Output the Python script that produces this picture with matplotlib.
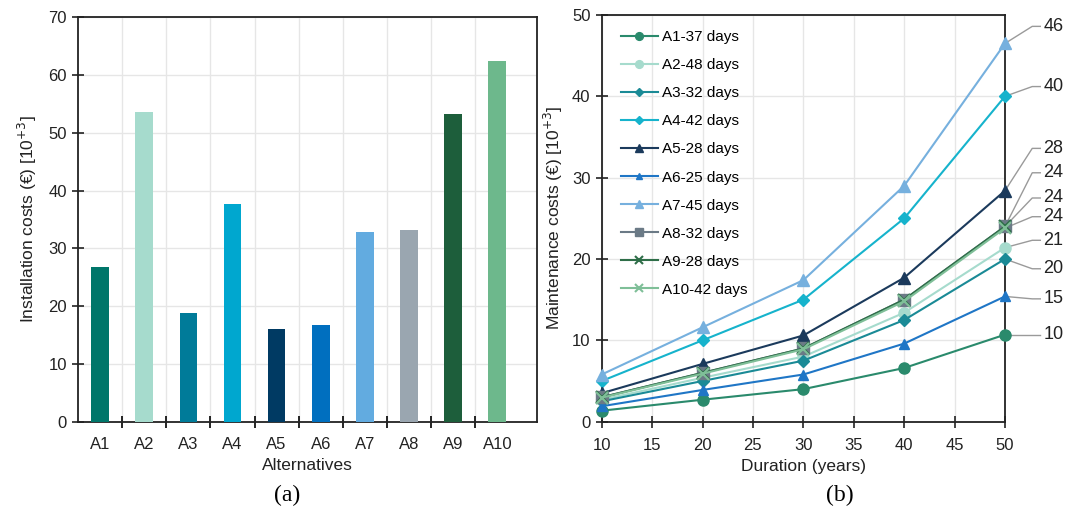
import numpy as np
import matplotlib
matplotlib.use("Agg")
import matplotlib.pyplot as plt

# ==========================================
# Data
# ==========================================

alternatives = ["A1", "A2", "A3", "A4", "A5", "A6", "A7", "A8", "A9", "A10"]
installation_costs = [26.8, 53.5, 18.8, 37.6, 16.1, 16.8, 32.9, 33.2, 53.3, 62.4]

years = [10, 20, 30, 40, 50]
series_labels = ["A1-37 days", "A2-48 days", "A3-32 days", "A4-42 days", "A5-28 days",
                 "A6-25 days", "A7-45 days", "A8-32 days", "A9-28 days", "A10-42 days"]
maint_a1 = [1.35, 2.7, 4.0, 6.6, 10.7]
maint_a2 = [2.7, 5.4, 8.0, 13.4, 21.4]
maint_a3 = [2.5, 5.0, 7.5, 12.5, 20.0]
maint_a4 = [5.0, 10.0, 15.0, 25.0, 40.0]
maint_a5 = [3.5, 7.1, 10.6, 17.7, 28.4]
maint_a6 = [1.9, 3.9, 5.8, 9.6, 15.4]
maint_a7 = [5.8, 11.6, 17.4, 29.0, 46.5]
maint_a8 = [3.0, 6.0, 9.0, 15.0, 24.0]
maint_a9 = [3.0, 6.0, 9.0, 15.0, 24.0]
maint_a10 = [2.95, 5.9, 8.9, 14.8, 23.8]
end_labels = ["10", "21", "20", "40", "28", "15", "46", "24", "24", "24"]

# ==========================================
# Styles / layout
# ==========================================

bar_colors = ["#00766a", "#a6dbcd", "#007b99", "#00a7cf", "#003a63",
              "#006fbf", "#62abe0", "#9aa6b0", "#1d5e3b", "#6db88c"]
line_colors = ["#2a8a6c", "#a6dbcd", "#1a8a96", "#16b3cc", "#1b3a5c",
               "#1f76c6", "#76b0de", "#6b7a86", "#2e6e48", "#7fbf98"]
markers = ["o", "o", "D", "D", "^", "^", "^", "s", "x", "x"]
marker_sizes = [8, 8, 6, 6, 8, 7, 8, 8, 8, 8]
# vertical position (data units) of the value labels at the right of panel (b)
label_y = [10.7, 22.3, 18.8, 41.2, 33.6, 15.1, 48.6, 30.6, 27.5, 25.2]

plt.rcParams["font.family"] = ["Liberation Sans", "DejaVu Sans"]
GRID = "#e6e6e6"
TXT = "#222222"

fig = plt.figure(figsize=(10.67, 5.13), dpi=100)
ax1 = fig.add_axes([0.0731, 0.1774, 0.4302, 0.7895])
ax2 = fig.add_axes([0.5639, 0.1780, 0.3780, 0.7928])

# ==========================================
# (a) Installation costs
# ==========================================

x = np.arange(len(alternatives))
ax1.bar(x, installation_costs, width=0.4, color=bar_colors, zorder=3)
ax1.set_xlim(-0.5, 9.9)
ax1.set_ylim(0, 70)
ax1.set_yticks(np.arange(0, 71, 10))
ax1.set_xticks(x)
ax1.set_xticklabels(alternatives)
ax1.set_xticks(x[:-1] + 0.5, minor=True)
ax1.tick_params(axis="x", which="major", length=0, labelsize=12, colors=TXT, pad=11)
ax1.tick_params(axis="x", which="minor", direction="inout", length=8, width=1.2)
ax1.tick_params(axis="y", direction="inout", length=8, width=1.2, labelsize=12,
                colors=TXT, pad=4)
ax1.grid(True, axis="y", which="major", color=GRID, lw=1, zorder=0)
ax1.grid(True, axis="x", which="minor", color=GRID, lw=1, zorder=0)
ax1.set_xlabel("Alternatives", fontsize=12.5, color=TXT, labelpad=4)
ax1.set_ylabel("Installation costs (€) [10$^{+3}$]", fontsize=12.5, color=TXT, labelpad=7)
for s in ax1.spines.values():
    s.set_linewidth(1.3)
    s.set_color("#222222")

# ==========================================
# (b) Maintenance costs
# ==========================================

series = [maint_a1, maint_a2, maint_a3, maint_a4, maint_a5,
          maint_a6, maint_a7, maint_a8, maint_a9, maint_a10]

for i, vals in enumerate(series):
    ax2.plot(years, vals, color=line_colors[i], marker=markers[i],
             markersize=marker_sizes[i], markeredgewidth=1.5 if markers[i] == "x" else 1,
             lw=1.5, label=series_labels[i], zorder=3, clip_on=False)

for i, vals in enumerate(series):
    ax2.plot([years[-1], 52.7, 53.5], [vals[-1], label_y[i], label_y[i]],
             color="#9a9a9a", lw=1, clip_on=False, zorder=2)
    ax2.text(53.8, label_y[i], end_labels[i], fontsize=13, color=TXT,
             ha="left", va="center")

ax2.set_xlim(10, 50)
ax2.set_ylim(0, 50)
ax2.set_xticks(np.arange(10, 51, 5))
ax2.set_yticks(np.arange(0, 51, 10))
ax2.tick_params(axis="x", direction="inout", length=8, width=1.2, labelsize=12,
                colors=TXT, pad=8)
ax2.tick_params(axis="y", direction="inout", length=8, width=1.2, labelsize=12,
                colors=TXT, pad=4)
ax2.grid(True, color=GRID, lw=1, zorder=0)
ax2.set_xlabel("Duration (years)", fontsize=12.5, color=TXT, labelpad=4)
ax2.set_ylabel("Maintenance costs (€) [10$^{+3}$]", fontsize=12.5, color=TXT, labelpad=5)
for s in ax2.spines.values():
    s.set_linewidth(1.3)
    s.set_color("#222222")

ax2.legend(loc="upper left", bbox_to_anchor=(0.025, 0.985), frameon=False,
           fontsize=11, markerscale=0.7, handlelength=2.4, handletextpad=0.3,
           labelspacing=0.92, borderaxespad=0.2)

fig.text(0.269, 0.035, "(a)", fontsize=17, family="Liberation Serif", ha="center", va="center")
fig.text(0.787, 0.035, "(b)", fontsize=17, family="Liberation Serif", ha="center", va="center")

fig.savefig("out.png", dpi=100)
